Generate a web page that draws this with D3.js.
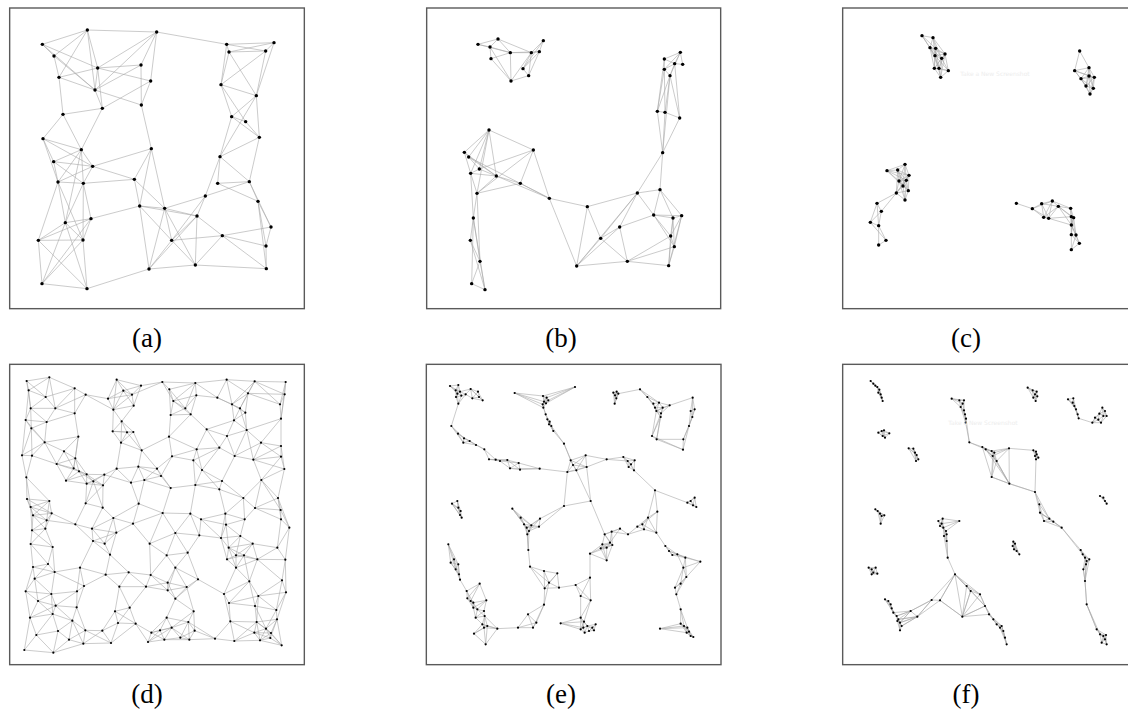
<!DOCTYPE html>
<html><head><meta charset="utf-8">
<script src="https://cdn.jsdelivr.net/npm/d3@7"></script>
<style>html,body{margin:0;padding:0;background:#fff;overflow:hidden}</style>
</head><body><div id="chart"></div>
<script>
// ---- data: node positions in layout units (0..900 per panel), edges as 1-based index pairs ----
const panelLabels = ["(a)","(b)","(c)","(d)","(e)","(f)"];

const aNodes = [[238,72],[446,78],[103,115],[138,150],[269,186],[399,177],[153,214],[428,225],[261,252],[400,297],
[283,307],[165,325],[656,115],[798,110],[663,138],[773,135],[639,236],[745,269],[671,332],[713,347],
[754,394],[105,398],[220,431],[430,428],[137,467],[254,481],[636,452],[150,528],[226,532],[379,520],
[629,532],[724,527],[592,570],[750,586],[395,600],[470,607],[567,630],[249,638],[172,650],[789,663],
[643,689],[91,703],[225,702],[491,703],[774,720],[562,777],[423,789],[775,788],[102,833],[237,848]];
const aEdges = [[1,2],[2,13],[1,3],[1,4],[1,7],[1,5],[1,9],[3,4],[3,5],[3,9],[4,7],[4,9],[2,5],[2,6],[2,8],[2,9],
[5,6],[5,8],[5,9],[5,11],[7,5],[7,9],[7,12],[6,9],[6,10],[8,10],[8,11],[9,10],[9,11],
[11,12],[11,23],[12,22],[12,23],[10,24],
[13,14],[13,15],[13,16],[13,17],[14,15],[14,16],[14,18],[15,16],[15,18],[15,17],[16,17],[16,18],
[17,18],[17,19],[17,20],[18,19],[18,21],[19,20],[19,21],[20,21],[19,27],[18,27],[21,27],[21,32],
[27,31],[27,33],[27,32],[31,32],[31,34],[32,34],[32,40],[32,33],
[33,36],[33,37],[33,44],[34,40],[34,45],[34,48],[40,41],[40,45],[41,37],[41,44],[41,48],[41,45],[45,48],
[37,35],[37,36],[37,46],[37,47],[37,44],[36,35],[36,44],[36,46],[36,47],
[35,30],[35,44],[35,47],[35,38],[30,24],[30,26],[30,36],[24,26],[24,36],[24,35],
[46,47],[46,48],[46,41],[47,50],[44,46],[44,47],
[22,23],[22,25],[22,28],[22,26],[23,25],[23,28],[23,29],[23,26],[23,39],
[25,26],[25,28],[25,29],[26,29],[26,28],[28,29],[28,39],[28,42],[28,43],
[29,30],[29,38],[29,39],[29,43],[38,39],[38,42],[38,43],[38,49],[39,42],[39,43],[39,49],[39,50],
[42,43],[42,49],[42,50],[43,49],[43,50],[49,50]];

const bNodes = [[162,115],[222,99],[198,123],[201,158],[259,140],[358,104],[322,140],[346,137],[297,188],[314,209],
[261,225],[769,139],[721,159],[752,173],[776,175],[721,190],[738,209],[700,316],[723,319],[767,336],
[716,440],[195,372],[328,432],[121,439],[134,453],[166,489],[140,502],[217,510],[289,532],[159,562],
[376,577],[148,636],[139,703],[168,766],[143,833],[183,851],[490,602],[640,561],[708,551],[689,627],
[747,636],[773,629],[587,663],[530,697],[740,690],[751,722],[458,780],[610,766],[734,779]];
const bEdges = [[1,2],[1,3],[1,5],[2,3],[2,5],[2,7],[3,4],[3,5],[3,11],[4,5],[5,7],[5,11],[5,8],[6,7],[6,8],[6,9],
[7,8],[7,9],[7,10],[7,11],[8,10],[8,9],[9,10],[10,11],[4,11],
[12,13],[12,14],[12,15],[12,16],[12,17],[13,14],[13,16],[14,15],[14,16],[14,17],[16,17],[13,18],[16,18],[16,19],
[17,19],[17,20],[14,20],[17,18],[18,19],[19,20],[18,21],[19,21],[20,21],[17,21],
[22,24],[22,25],[22,26],[22,27],[22,28],[22,23],[22,30],[23,29],[23,30],[23,26],[23,31],[24,25],[24,27],[24,28],
[25,28],[25,26],[25,31],[26,28],[26,27],[27,28],[27,30],[27,32],[28,29],[28,30],[28,31],[29,30],[29,31],[30,32],
[32,33],[32,34],[32,35],[32,36],[33,34],[33,36],[34,35],[34,36],[35,36],[30,34],
[31,37],[31,47],[37,38],[37,47],[37,44],[38,39],[38,21],[39,21],[38,40],[38,43],[38,47],[38,44],[39,40],[39,41],
[39,42],[40,41],[40,42],[40,45],[40,46],[40,43],[41,42],[41,45],[41,46],[41,49],[42,45],[42,46],[42,49],[43,44],
[43,47],[43,48],[44,47],[44,48],[45,46],[45,48],[45,49],[46,48],[46,49],[47,48],[48,49]];

const cNodes = [[246,89],[279,95],[270,125],[287,127],[315,144],[285,149],[305,157],[283,187],[297,187],[325,194],[302,214],
[719,135],[747,185],[704,194],[723,218],[747,210],[763,214],[738,240],[760,247],[750,264],
[195,475],[141,494],[173,492],[207,508],[177,525],[199,523],[189,540],[205,554],[169,561],[195,582],
[111,592],[124,616],[91,649],[116,659],[138,703],[116,717],
[529,592],[577,608],[605,593],[637,585],[611,634],[626,637],[655,601],[692,607],[694,632],[701,635],
[694,657],[694,686],[708,687],[718,712],[694,731]];

const dNodes = [[56,60],[124,49],[62,88],[200,82],[113,108],[233,101],[68,142],[142,142],[200,157],[53,177],
[116,183],[70,202],[211,227],[110,244],[42,283],[72,284],[168,271],[202,292],[146,309],[55,349],
[197,322],[213,331],[174,359],[236,340],[256,361],[289,341],[285,373],[236,368],
[326,56],[300,113],[346,89],[372,101],[399,74],[377,134],[316,146],[341,181],[314,211],[357,214],[376,213],
[339,245],[401,268],[326,323],[391,317],[447,323],[459,345],[409,357],[369,365],
[463,63],[484,85],[562,66],[565,103],[656,56],[628,110],[740,61],[720,97],[833,63],[830,100],
[496,120],[532,142],[488,162],[548,160],[672,130],[696,142],[712,155],[678,178],[816,130],[819,173],
[596,205],[657,225],[716,207],[483,227],[566,265],[634,260],[759,245],[819,255],[492,286],[556,298],
[680,285],[736,296],[819,287],[829,324],[582,327],[488,381],[562,372],[642,360],[634,385],[760,357],
[706,411],[741,441],[810,411],[818,447],
[57,414],[124,420],[68,438],[75,463],[131,457],[116,478],[233,427],[284,440],[392,428],
[72,508],[112,503],[202,490],[252,503],[316,471],[375,488],[325,515],[68,549],[134,558],[255,540],
[290,548],[306,581],[425,548],[75,618],[120,609],[140,633],[216,620],[293,641],[362,634],[428,642],
[80,653],[228,675],[334,677],[414,677],[53,691],[130,699],[207,691],[90,720],[143,734],[206,739],
[66,770],[134,759],[193,779],[321,751],[365,740],[330,786],[383,788],[150,810],[232,808],[283,809],
[85,822],[183,836],[226,848],[309,846],[49,867],[136,875],[420,843],[430,815],
[464,456],[547,458],[579,475],[652,458],[654,491],[710,475],[819,475],[844,500],[502,516],[574,523],
[639,531],[697,525],[734,548],[808,560],[662,560],[476,583],[539,575],[657,595],[684,583],[708,583],
[748,595],[832,596],[502,620],[684,620],[570,655],[479,665],[479,688],[536,678],[724,661],[822,658],
[648,699],[834,694],[751,705],[663,726],[741,735],[805,747],[502,713],[557,751],[476,770],[541,783],
[667,781],[746,783],[807,775],[491,800],[456,808],[560,809],[739,815],[774,803],[789,816],[517,830],
[544,836],[621,833],[679,840],[756,838],[787,831],[821,853],[469,836]];

const eNodes = [[78,75],[103,72],[95,88],[100,98],[108,92],[96,108],[112,104],[125,100],[140,84],[162,92],
[165,108],[145,112],[176,118],[103,128],[272,96],[357,105],[368,110],[373,118],[360,122],[356,130],
[366,127],[453,78],[358,140],[365,160],[370,175],[377,182],[382,195],[388,210],[375,190],[420,248],
[440,298],[447,312],[430,333],[485,283],[488,318],[457,328],
[82,195],[102,218],[120,232],[118,245],[137,240],[156,252],[181,265],[195,295],[215,296],[228,300],
[250,297],[258,322],[284,306],[288,326],[347,323],
[568,95],[578,92],[573,103],[577,112],[572,128],[583,98],[648,85],
[670,108],[688,128],[693,140],[705,125],[697,150],[711,157],[716,140],[710,168],[737,133],[684,225],[698,235],
[806,110],[800,150],[812,145],[805,168],[795,195],[778,235],[777,266],
[548,295],[598,288],[611,300],[632,298],[621,310],[630,328],[614,318],[693,388],
[800,420],[812,410],[817,438],[807,433],[790,425],
[700,452],[672,470],[655,490],[660,505],[697,515],[640,497],
[612,520],[588,503],[563,512],[542,520],[535,550],[548,560],[558,545],[565,552],[530,562],[498,578],[548,598],
[420,435],[500,420],
[724,555],[735,570],[745,582],[760,580],[784,590],[829,602],[778,620],[787,648],[770,668],[753,680],[757,700],[770,745],
[708,803],[770,788],[780,795],[790,800],[795,812],[800,825],[808,828],[788,815],
[265,443],[290,470],[300,490],[308,500],[315,510],[310,520],[322,493],[345,497],[348,473],
[313,567],[318,617],[360,630],[400,637],[375,665],[405,680],[362,682],[360,731],[410,787],[470,705],[500,718],[498,650],[455,672],
[470,770],[480,782],[490,795],[505,800],[515,790],[510,808],[470,805],[482,815],[495,810],[478,800],
[84,428],[100,420],[103,440],[110,450],[113,470],[108,462],
[73,550],[80,605],[90,595],[103,610],[95,625],[105,640],[108,656],[167,668],[128,690],[130,712],[140,720],
[148,725],[148,740],[160,745],[180,750],[182,765],[187,718],[155,770],[175,790],[180,800],[190,795],[185,850],
[150,818],[220,803],[282,800],[327,800],[312,760],[337,785]];

const fNodes = [[92,60],[100,68],[106,74],[112,78],[118,86],[115,95],[122,100],[125,110],[128,120],
[335,113],[358,118],[372,118],[368,128],[362,138],[372,148],[375,160],[378,173],[377,185],
[388,244],[427,258],[437,265],[455,270],[463,275],[470,300],[458,285],[507,262],[508,368],[455,348],
[563,80],[578,88],[590,92],[585,100],[580,110],[587,120],[592,106],
[684,115],[700,112],[698,125],[703,135],[708,145],[713,160],[716,172],
[787,140],[795,150],[778,158],[790,165],[765,170],[775,176],[783,185],[757,185],[800,165],
[115,215],[125,210],[132,208],[148,217],[128,225],[135,230],
[206,262],[220,263],[225,275],[230,282],[235,295],[228,300],
[580,268],[588,272],[590,280],[595,290],[588,295],[585,285],
[585,393],[598,430],[600,455],[612,480],[628,473],[640,482],[665,500],[722,567],[728,580],[735,590],
[740,600],[748,595],[738,610],[730,625],[735,660],[740,730],[770,805],[780,820],[790,825],[795,835],
[800,850],[785,845],[798,822],
[780,405],[790,410],[795,420],[800,428],
[106,445],[113,450],[120,458],[125,465],[133,463],[122,488],
[295,480],[308,473],[358,480],[300,495],[310,500],[318,510],[320,520],[312,525],[305,488],
[320,540],[323,590],[345,640],[380,675],[392,690],[420,700],[435,735],[447,760],[460,775],[470,790],
[480,800],[490,810],[495,830],[500,850],[485,795],
[300,718],[367,767],[275,717],[232,767],[212,750],
[135,715],[145,720],[152,730],[155,742],[160,755],[170,765],[175,775],[180,785],[185,795],[180,808],[172,780],
[520,542],[525,548],[518,555],[522,565],[530,570],[538,580],
[86,620],[95,625],[107,620],[100,635],[112,638],[95,640]];
// long links read in panel (f), given by node coordinates
const fExtraLinks = [[[507,262],[508,368]],[[455,348],[427,258]],[[455,348],[508,368]],[[507,262],[580,268]],
[[508,368],[585,393]],[[585,393],[588,295]],[[470,300],[508,368]],[[437,265],[508,368]],
[[665,500],[722,567]],[[665,500],[728,580]],[[735,660],[740,730]],[[740,730],[770,805]],[[730,625],[735,660]],
[[345,640],[367,767]],[[345,640],[392,690]],[[345,640],[420,700]],[[367,767],[380,675]],[[367,767],[392,690]],
[[367,767],[420,700]],[[367,767],[435,735]],[[300,718],[345,640]],[[300,718],[367,767]],[[275,717],[345,640]],
[[232,767],[275,717]],[[212,750],[275,717]],[[232,767],[175,775]],[[232,767],[180,785]],[[212,750],[170,765]],
[[212,750],[160,755]],[[212,750],[180,785]],[[232,767],[185,795]]];

// ---- edge rules for the dense panels (neighbourhood graphs of the read nodes) ----
function radiusEdges(nodes, r){
  const out=[];
  for(let i=0;i<nodes.length;i++)for(let j=i+1;j<nodes.length;j++){
    if(Math.hypot(nodes[i][0]-nodes[j][0],nodes[i][1]-nodes[j][1])<=r) out.push([i+1,j+1]);
  }
  return out;
}
function knnEdges(nodes,k,maxLen){
  const seen=new Set(), out=[];
  nodes.forEach((p,i)=>{
    nodes.map((q,j)=>[j,Math.hypot(p[0]-q[0],p[1]-q[1])])
      .filter(d=>d[0]!==i&&d[1]<=maxLen).sort((a,b)=>a[1]-b[1]).slice(0,k)
      .forEach(([j])=>{const key=Math.min(i,j)+"-"+Math.max(i,j);
        if(!seen.has(key)){seen.add(key);out.push([i+1,j+1]);}});
  });
  return out;
}
function linkEdges(nodes,links){
  const idx=p=>nodes.findIndex(n=>n[0]===p[0]&&n[1]===p[1])+1;
  return links.map(l=>[idx(l[0]),idx(l[1])]).filter(e=>e[0]>0&&e[1]>0);
}

const W=1128,H=717;
const svg=d3.select("#chart").append("svg").attr("width",W).attr("height",H)
  .style("font-family","'Liberation Serif','DejaVu Serif',serif");

const panels=[
  {nodes:aNodes,edges:aEdges,ox:8,oy:6,frame:[5,6,889,908],r:1.7},
  {nodes:bNodes,edges:bEdges,ox:424,oy:6,frame:[8,6,890,908],r:1.7},
  {nodes:cNodes,edges:radiusEdges(cNodes,72),ox:840,oy:6,frame:[8,6,892,908],r:1.7},
  {nodes:dNodes,edges:knnEdges(dNodes,5,112),ox:8,oy:361,frame:[5,10,889,911],r:1.1},
  {nodes:eNodes,edges:knnEdges(eNodes,4,120),ox:424,oy:361,frame:[7,10,891,911],r:1.1},
  {nodes:fNodes,edges:knnEdges(fNodes,4,100).concat(linkEdges(fNodes,fExtraLinks)),ox:840,oy:361,frame:[8,10,892,911],r:1.1}
];
const labelX=[147,561,966,147,561,966], labelY=[347,347,347,703,703,703];

panels.forEach((p,pi)=>{
  const x=d3.scaleLinear().domain([0,900]).range([p.ox,p.ox+300]);
  const y=d3.scaleLinear().domain([0,900]).range([p.oy,p.oy+300]);
  const g=svg.append("g");
  const f=p.frame;
  g.append("rect").attr("x",x(f[0])).attr("y",y(f[1]))
   .attr("width",x(f[2])-x(f[0])).attr("height",y(f[3])-y(f[1]))
   .attr("fill","none").attr("stroke","#5a5a5a").attr("stroke-width",1.4);
  g.selectAll("line.e").data(p.edges).enter().append("line")
   .attr("x1",d=>x(p.nodes[d[0]-1][0])).attr("y1",d=>y(p.nodes[d[0]-1][1]))
   .attr("x2",d=>x(p.nodes[d[1]-1][0])).attr("y2",d=>y(p.nodes[d[1]-1][1]))
   .attr("stroke","#a8a8a8").attr("stroke-width",0.6);
  g.selectAll("circle").data(p.nodes).enter().append("circle")
   .attr("cx",d=>x(d[0])).attr("cy",d=>y(d[1])).attr("r",p.r).attr("fill","#000");
  svg.append("text").attr("x",labelX[pi]).attr("y",labelY[pi]).attr("text-anchor","middle")
   .attr("font-size",27).attr("fill","#000").text(panelLabels[pi]);
});
// faint screenshot-tool overlay text visible in the reference
[[995,76],[983,425]].forEach(t=>svg.append("text").attr("x",t[0]).attr("y",t[1])
  .attr("text-anchor","middle").attr("font-family","'DejaVu Sans',sans-serif")
  .attr("font-size",6).attr("fill","#ededed").text("Take a New Screenshot"));
</script></body></html>
